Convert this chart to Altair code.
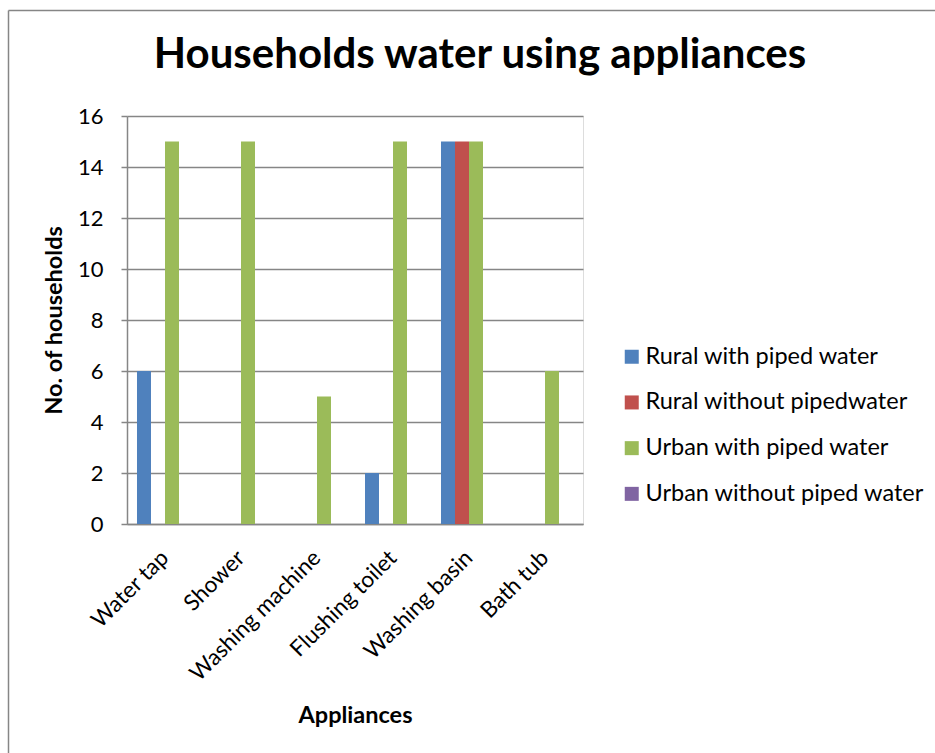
import altair as alt
import pandas as pd

# Appliance categories and series
appliances = ["Water tap", "Shower", "Washing machine", "Flushing toilet", "Washing basin", "Bath tub"]
series = [
    "Rural with piped water",
    "Rural without pipedwater",
    "Urban with piped water",
    "Urban without piped water",
]
colors = ["#4F81BD", "#C0504D", "#9BBB59", "#8064A2"]

rural_piped = [6, 0, 0, 2, 15, 0]
rural_no_pipe = [0, 0, 0, 0, 15, 0]
urban_piped = [15, 15, 5, 15, 15, 6]
urban_no_pipe = [0, 0, 0, 0, 0, 0]

values = [rural_piped, rural_no_pipe, urban_piped, urban_no_pipe]
rows = []
for s, vals in zip(series, values):
    for a, v in zip(appliances, vals):
        rows.append({"Appliance": a, "Series": s, "Households": v})
df = pd.DataFrame(rows)

FONT = "Lato"
GRAY = "#868686"

bars = alt.Chart(df).mark_bar(size=14).encode(
    x=alt.X(
        "Appliance:N",
        sort=appliances,
        scale=alt.Scale(paddingInner=0.263, paddingOuter=0.1315),
        axis=alt.Axis(
            title="Appliances",
            labelAngle=-45,
            labelAlign="right",
            labelBaseline="middle",
            labelFont=FONT,
            labelFontSize=22.5,
            labelColor="#000000",
            labelPadding=30,
            labelLimit=400,
            ticks=False,
            domainColor=GRAY,
            domainWidth=1.5,
            titleFont=FONT,
            titleFontSize=23.5,
            titleFontWeight="bold",
            titleColor="#000000",
            titlePadding=19,
        ),
    ),
    xOffset=alt.XOffset("Series:N", sort=series, scale=alt.Scale(paddingInner=0, paddingOuter=0)),
    y=alt.Y(
        "Households:Q",
        scale=alt.Scale(domain=[0, 16], nice=False),
        axis=alt.Axis(
            title="No. of households",
            values=[0, 2, 4, 6, 8, 10, 12, 14, 16],
            grid=True,
            gridColor=GRAY,
            gridWidth=1.5,
            domainColor=GRAY,
            domainWidth=1.5,
            tickColor=GRAY,
            tickWidth=1.5,
            tickSize=6,
            labelFont=FONT,
            labelFontSize=22,
            labelColor="#000000",
            labelPadding=18,
            titleFont=FONT,
            titleFontSize=23.5,
            titleFontWeight="bold",
            titleColor="#000000",
            titlePadding=11,
        ),
    ),
    color=alt.Color(
        "Series:N",
        sort=series,
        scale=alt.Scale(domain=series, range=colors),
        legend=alt.Legend(
            title=None,
            orient="none",
            legendX=493,
            legendY=229,
            symbolType="square",
            symbolSize=196,
            symbolStrokeWidth=0,
            labelFont=FONT,
            labelFontSize=23.5,
            labelColor="#000000",
            labelOffset=2,
            labelLimit=400,
            rowPadding=20.7,
            padding=0,
        ),
    ),
)

# Chart-area frame along the left and top edges
frame_left = alt.Chart().mark_rule(color=GRAY, strokeWidth=1.5).encode(
    x=alt.value(-118.5), y=alt.value(-105.5), y2=alt.value(640)
)
frame_top = alt.Chart().mark_rule(color=GRAY, strokeWidth=1.5).encode(
    x=alt.value(-118.5), x2=alt.value(830), y=alt.value(-105.5)
)

chart = alt.layer(bars, frame_left, frame_top).properties(
    width=456,
    height=408,
    autosize=alt.AutoSizeParams(type="none"),
    padding={"left": 127, "top": 116, "right": 352, "bottom": 229},
    title=alt.TitleParams(
        "Households water using appliances",
        font=FONT,
        fontSize=42,
        fontWeight="bold",
        color="#000000",
        anchor="middle",
        baseline="alphabetic",
        dx=125,
        offset=-100,
    ),
).configure_view(strokeWidth=0).configure(background="#ffffff")

chart.save("out.html", embed_options={"renderer": "svg", "actions": False})
